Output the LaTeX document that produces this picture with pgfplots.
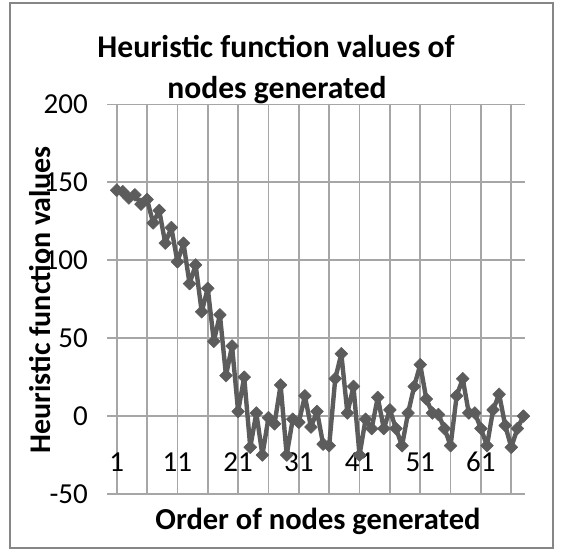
\documentclass[border=0pt]{standalone}
\usepackage{fontspec}
\setmainfont{Carlito}
\usepackage{pgfplots}
\pgfplotsset{compat=1.18}
\definecolor{gridc}{RGB}{166,166,166}
\definecolor{linec}{RGB}{92,92,92}
\definecolor{framec}{RGB}{134,134,134}
\begin{document}
\begin{tikzpicture}[x=1pt,y=1pt]
\path (0,0) rectangle (561,556);
\draw[framec, line width=2pt] (10,8) rectangle (553,553);
\begin{axis}[
  at={(107pt,62pt)}, anchor=south west,
  scale only axis, width=418pt, height=389.5pt,
  xmin=-0.6, xmax=68.26, ymin=-50, ymax=200,
  xtick={1,6,...,66},
  xticklabels={1,,11,,21,,31,,41,,51,,61,},
  ytick={-50,0,...,200},
  grid=major,
  major grid style={gridc, line width=1.8pt},
  major tick length=0pt,
  axis line style={draw=none},
  /pgf/number format/assume math mode=true,
  tick label style={font=\fontsize{29}{35}\selectfont, text=black},
  yticklabel style={anchor=east, inner sep=0pt, xshift=-19pt},
  xticklabel style={anchor=center, inner sep=0pt, yshift=32pt},
  clip=false,
]
\addplot[linec, line width=4.4pt, line join=round, mark=square*, mark size=4.5pt,
  mark options={rotate=45, fill=linec, draw=linec, line width=0.6pt}] coordinates {
(1,145) (2,144) (3,140) (4,142) (5,136) (6,139) (7,124) (8,132) (9,111) (10,121)
(11,99) (12,111) (13,85) (14,97) (15,67) (16,82) (17,48) (18,65) (19,26) (20,45)
(21,3) (22,25) (23,-20) (24,2) (25,-25) (26,-1) (27,-5) (28,20) (29,-25) (30,-2)
(31,-4) (32,13) (33,-7) (34,3) (35,-18) (36,-19) (37,24) (38,40) (39,2) (40,19)
(41,-25) (42,-2) (43,-8) (44,12) (45,-8) (46,4) (47,-8) (48,-19) (49,2) (50,19)
(51,33) (52,11) (53,2) (54,1) (55,-8) (56,-19) (57,13) (58,24) (59,2) (60,2)
(61,-8) (62,-19) (63,4) (64,14) (65,-6) (66,-20) (67,-8) (68,0)
};
\end{axis}
\node[anchor=base, font=\bfseries\fontsize{31.6}{38}\selectfont] at (276,498) {Heuristic function values of};
\node[anchor=base, font=\bfseries\fontsize{31.6}{38}\selectfont] at (277,457) {nodes generated};
\node[anchor=base, font=\bfseries\fontsize{30.5}{36}\selectfont] at (318,27) {Order of nodes generated};
\node[anchor=base, rotate=90, font=\bfseries\fontsize{30}{36}\selectfont] at (50,256) {Heuristic function values};
\end{tikzpicture}
\end{document}
